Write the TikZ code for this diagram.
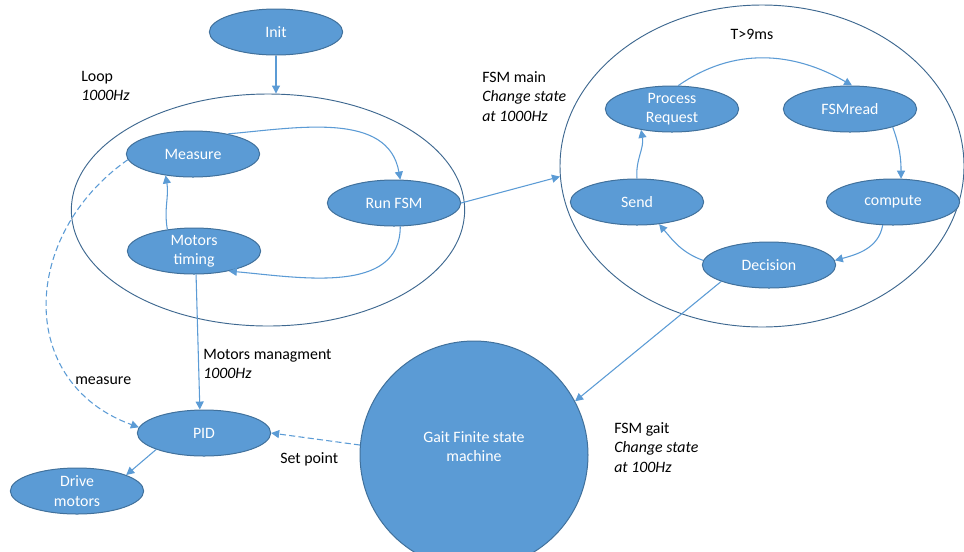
\documentclass[tikz,border=0pt]{standalone}
\usepackage{fontspec}
\setmainfont{Carlito}
\usetikzlibrary{positioning, arrows.meta, shapes.geometric}
\definecolor{BlueA}{HTML}{41719C}
\definecolor{BlueB}{HTML}{5B9BD5}
\definecolor{GrayA}{HTML}{3E6890}
\newcommand{\figfont}{\fontsize{11.9}{14.6}\selectfont}
\tikzset{
  st/.style={ellipse, draw=BlueA, fill=BlueB, text=white, align=center, font=\figfont, line width=0.75pt, inner sep=0pt, minimum width=100pt, minimum height=34.5pt},
  big/.style={ellipse, draw=GrayA, fill=white, line width=0.7pt, inner sep=0pt},
  arr/.style={-{Triangle[length=6pt,width=6pt]}, draw=BlueB, line width=0.8pt},
  darr/.style={arr, dash pattern=on 4.5pt off 2.5pt},
  lbl/.style={align=left, anchor=north west, inner sep=0pt, font=\figfont, text=black}
}
\begin{document}
\begin{tikzpicture}[x=0.75pt, y=-0.75pt]
  \useasboundingbox (0,0) rectangle (964,551);

  \node[big, minimum width=295pt, minimum height=174pt] (loop) at (268,210) {};
  \node[big, minimum width=303pt, minimum height=241.5pt] (fsmmain) at (762,166) {};

  \node[st] (init) at (276,32) {Init};
  \node[st] (meas) at (193,154) {Measure};
  \node[st] (runfsm) at (394,203) {Run FSM};
  \node[st] (mtime) at (194,251) {Motors\\timing};
  \node[st] (pid) at (204,433) {PID};
  \node[st] (drive) at (77,491) {Drive\\motors};
  \node[st] (proc) at (672,109) {Process\\Request};
  \node[st] (fsmread) at (850,109) {FSMread};
  \node[st] (send) at (637,202) {Send};
  \node[st] (comp) at (893,202) {compute};
  \node[st] (dec) at (769,265) {Decision};
  \node[st, circle, minimum size=171pt, text depth=12.5pt] (gait) at (474,455) {Gait Finite state\\machine};

  \node[lbl] (looplbl) at (81,71) {Loop\\\textit{1000Hz}};
  \node[lbl] (mainlbl) at (482,71) {FSM main\\\textit{Change state}\\\textit{at 1000Hz}};
  \node[lbl] (mmlbl) at (203,349) {Motors managment\\\textit{1000Hz}};
  \node[lbl] (gaitlbl) at (614,422) {FSM gait\\\textit{Change state}\\\textit{at 100Hz}};
  \node[lbl, anchor=base west] (measlbl) at (75,384) {measure};
  \node[lbl, anchor=base west] (splbl) at (280,463) {Set point};
  \node[lbl, anchor=base] (tlbl) at (752,39) {T>9ms};

  \draw[arr] (init.south) -- (init.south |- loop.north);
  \draw[arr] (meas.30) to[out=5,in=100] (runfsm.75);
  \draw[arr] (runfsm.-75) to[out=-90,in=-5] (mtime.-30);
  \draw[arr] (mtime.141) to[out=100,in=-80] (meas.-142);
  \draw[arr] (mtime.-85) -- (pid.100);
  \draw[darr] (meas.185) to[out=215,in=160,looseness=1.25] (pid.175);
  \draw[arr] (pid.199) -- (drive.18);
  \draw[darr] (gait.175) -- (pid.east);
  \draw[arr] (dec.199) -- (gait.28);
  \draw[arr] (runfsm.east) -- (fsmmain.183);
  \draw[arr] (proc.75) to[out=35,in=150] (fsmread.85);
  \draw[arr] (fsmread.-23) to[out=-70,in=90] (comp.71);
  \draw[arr] (comp.-114) to[out=-100,in=15] (dec.4);
  \draw[arr] (dec.176) to[out=160,in=-50] (send.-45);
  \draw[arr] (send.north) to[out=95,in=-80] (proc.-146);
\end{tikzpicture}
\end{document}
